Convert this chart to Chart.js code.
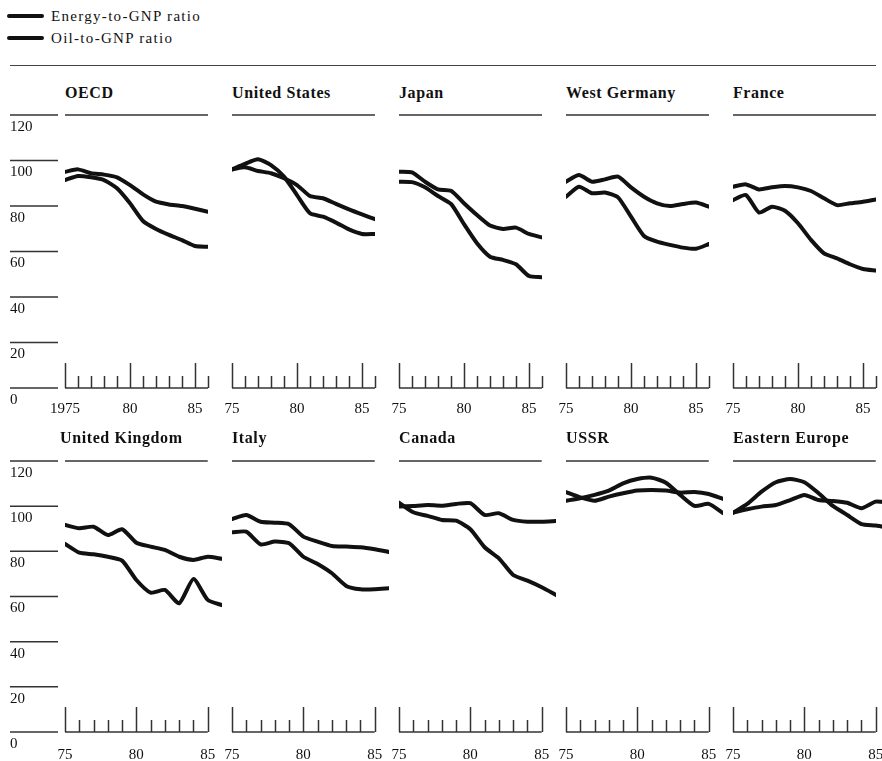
<!DOCTYPE html>
<html>
<head>
<meta charset="utf-8">
<script src="https://cdn.jsdelivr.net/npm/chart.js@4"></script>
<style>
  body { margin: 0; background: #fff; }
  #wrap { position: relative; width: 882px; height: 761px; overflow: hidden; background: #fff;
          font-family: "Liberation Serif", "Times New Roman", serif; color: #111; }
  .title { position: absolute; font-weight: bold; font-size: 16px; line-height: 18px; letter-spacing: 0.6px; white-space: nowrap; }
  .leg { position: absolute; left: 7px; height: 20px; display: flex; align-items: center;
         font-size: 15px; line-height: 20px; letter-spacing: 1.3px; white-space: nowrap; }
  .leg i { display: inline-block; width: 37px; height: 4px; background: #111; border-radius: 2px; margin-right: 7px; }
  .rule { position: absolute; left: 10px; top: 65px; width: 866px; height: 0; border-top: 1.5px solid #444; }
  canvas { position: absolute; }
</style>
</head>
<body>
<div id="wrap">
  <div class="leg" style="top:6px"><i></i><span>Energy-to-GNP ratio</span></div>
  <div class="leg" style="top:28px"><i></i><span>Oil-to-GNP ratio</span></div>
  <div class="rule"></div>
</div>
<script>
// ---------- data ----------
const years = [1975, 1976, 1977, 1978, 1979, 1980, 1981, 1982, 1983, 1984, 1985, 1986];
const yTicks = [0, 20, 40, 60, 80, 100, 120];
const seriesNames = ['Energy-to-GNP ratio', 'Oil-to-GNP ratio'];
const panelTitles = ['OECD', 'United States', 'Japan', 'West Germany', 'France',
                     'United Kingdom', 'Italy', 'Canada', 'USSR', 'Eastern Europe'];

const oecdEnergy = [95.0, 96.1, 94.4, 93.8, 92.6, 89.2, 85.1, 81.9, 80.7, 80.0, 78.8, 77.5];
const oecdOil    = [91.4, 93.2, 92.6, 91.4, 87.8, 81.2, 73.4, 69.9, 67.3, 65.0, 62.4, 62.1];
const usEnergy   = [96.1, 97.0, 95.4, 94.4, 92.2, 89.2, 84.4, 83.4, 80.9, 78.5, 76.3, 74.2];
const usOil      = [96.1, 98.5, 100.5, 98.0, 92.9, 84.8, 76.8, 75.3, 72.7, 69.7, 67.7, 67.7];
const japanEnergy = [95.1, 94.8, 90.7, 87.3, 86.7, 81.2, 76.0, 71.4, 69.9, 70.5, 67.7, 66.2];
const japanOil    = [90.7, 90.5, 88.2, 84.4, 80.9, 72.0, 63.6, 57.7, 56.3, 54.4, 49.2, 48.7];
const wgEnergy   = [90.7, 93.6, 90.7, 91.7, 92.9, 88.2, 84.1, 81.2, 80.0, 80.9, 81.5, 79.7];
const wgOil      = [84.1, 88.5, 85.6, 85.9, 83.8, 75.3, 66.8, 64.3, 62.9, 61.7, 61.2, 63.3];
const franceEnergy = [88.5, 89.5, 87.3, 88.2, 88.8, 88.2, 86.6, 83.4, 80.4, 81.2, 81.9, 82.9];
const franceOil    = [82.6, 84.8, 77.1, 79.7, 77.9, 72.4, 65.1, 59.2, 57.0, 54.4, 52.3, 51.6];
const ukEnergy   = [91.7, 90.2, 90.9, 87.2, 89.8, 83.8, 82.1, 80.6, 77.6, 76.2, 77.6, 76.7];
const ukOil      = [83.3, 79.4, 78.7, 77.6, 75.9, 67.3, 61.7, 62.9, 57.0, 67.8, 58.5, 56.2];
const italyEnergy = [94.3, 96.1, 93.1, 92.7, 92.0, 86.5, 84.3, 82.4, 82.1, 81.8, 80.9, 79.7];
const italyOil    = [88.4, 88.7, 83.1, 84.3, 83.6, 77.6, 74.4, 70.3, 64.7, 63.2, 63.2, 63.6];
const canadaEnergy = [99.8, 100.1, 100.5, 100.2, 101.0, 101.3, 96.1, 96.9, 93.9, 93.1, 93.1, 93.4];
const canadaOil    = [101.6, 97.3, 95.7, 93.9, 93.6, 89.8, 81.8, 76.9, 69.5, 67.0, 64.1, 60.7];
const ussrEnergy = [106.2, 103.9, 102.4, 104.2, 105.7, 106.9, 107.2, 106.9, 106.0, 106.3, 105.4, 103.2];
const ussrOil    = [102.4, 103.5, 105.0, 106.9, 110.1, 112.0, 112.6, 110.4, 105.0, 100.1, 101.0, 96.9];
const eeEnergy   = [97.1, 98.6, 99.8, 100.5, 102.7, 105.0, 102.7, 102.3, 101.5, 99.1, 102.0, 101.4];
const eeOil      = [97.1, 101.0, 106.4, 110.6, 112.0, 110.6, 105.7, 100.1, 96.1, 92.1, 91.4, 90.3];

const energySeries = [oecdEnergy, usEnergy, japanEnergy, wgEnergy, franceEnergy,
                      ukEnergy, italyEnergy, canadaEnergy, ussrEnergy, eeEnergy];
const oilSeries    = [oecdOil, usOil, japanOil, wgOil, franceOil,
                      ukOil, italyOil, canadaOil, ussrOil, eeOil];

// ---------- layout ----------
const FONT = '"Liberation Serif", "Times New Roman", serif';
Chart.defaults.font.family = FONT;
const ROWS = [
  { top: 115, bottom: 388, span: 143, axisEnd: 1986, titleTop: 84, tickPad: 12 },
  { top: 461, bottom: 732, span: 157, axisEnd: 1985, titleTop: 429, tickPad: 14 }
];
const COLS = [65, 232, 399, 566, 733];

const decor = {
  id: 'decor',
  beforeDatasetsDraw(chart, args, opts) {
    const { ctx, scales: { x, y } } = chart;
    const ax0 = x.getPixelForValue(years[0]);
    const ax1 = x.getPixelForValue(opts.axisEnd);
    const y0 = y.getPixelForValue(yTicks[0]);
    const yTop = y.getPixelForValue(yTicks[yTicks.length - 1]);
    ctx.save();
    ctx.strokeStyle = '#333';
    ctx.lineWidth = 1.5;
    ctx.beginPath(); ctx.moveTo(ax0, yTop); ctx.lineTo(ax1, yTop); ctx.stroke();
    ctx.beginPath(); ctx.moveTo(ax0, y0); ctx.lineTo(ax1, y0); ctx.stroke();
    years.filter(yr => yr <= opts.axisEnd).forEach(yr => {
      const px = Math.round(x.getPixelForValue(yr)) + 0.5;
      const len = yr % 5 === 0 ? 25 : 12;
      ctx.beginPath(); ctx.moveTo(px, y0); ctx.lineTo(px, y0 - len); ctx.stroke();
    });
    if (opts.yAxis) {
      ctx.fillStyle = '#111';
      ctx.font = '15px ' + FONT;
      ctx.textAlign = 'left';
      ctx.textBaseline = 'middle';
      yTicks.forEach(v => {
        const py = y.getPixelForValue(v);
        ctx.beginPath(); ctx.moveTo(10, py); ctx.lineTo(58, py); ctx.stroke();
        ctx.fillText(String(v), 10, py + 12);
      });
    }
    ctx.restore();
  }
};

const wrap = document.getElementById('wrap');
panelTitles.forEach((title, i) => {
  const r = Math.floor(i / 5), c = i % 5;
  const R = ROWS[r], L = COLS[c];
  const pl = c === 0 ? L : 34, pr = 34, pt = 10, pb = 4, tickPad = R.tickPad;
  const axisH = 2 * tickPad + 18;
  const w = pl + R.span + pr;
  const h = pt + (R.bottom - R.top) + axisH + pb;

  const t = document.createElement('div');
  t.className = 'title';
  t.textContent = title;
  t.style.left = (i === 5 ? L - 5 : L) + 'px';
  t.style.top = R.titleTop + 'px';
  wrap.appendChild(t);

  const cv = document.createElement('canvas');
  cv.width = w; cv.height = h;
  cv.style.width = w + 'px'; cv.style.height = h + 'px';
  cv.style.left = (L - pl) + 'px'; cv.style.top = (R.top - pt) + 'px';
  wrap.appendChild(cv);

  const mk = (vals, name) => ({
    label: name,
    data: years.map((yr, k) => ({ x: yr, y: vals[k] })),
    borderColor: '#111', borderWidth: 4, pointRadius: 0, fill: false,
    tension: 0.2, borderCapStyle: 'round', borderJoinStyle: 'round'
  });

  new Chart(cv, {
    type: 'line',
    data: { datasets: [mk(energySeries[i], seriesNames[0]), mk(oilSeries[i], seriesNames[1])] },
    options: {
      responsive: false, animation: false, devicePixelRatio: 1,
      layout: { padding: { left: pl, right: pr, top: pt, bottom: pb } },
      plugins: {
        legend: { display: false }, tooltip: { enabled: false },
        decor: { axisEnd: R.axisEnd, yAxis: c === 0 }
      },
      scales: {
        x: {
          type: 'linear', min: years[0], max: years[years.length - 1],
          border: { display: false },
          grid: { display: false, drawTicks: false },
          ticks: {
            stepSize: 1, autoSkip: false, maxRotation: 0, padding: tickPad,
            color: '#111', font: { size: 15, family: FONT },
            callback: v => (v % 5 === 0 ? (i === 0 && v === 1975 ? '1975' : String(v).slice(2)) : null)
          }
        },
        y: { display: false, min: yTicks[0], max: yTicks[yTicks.length - 1] }
      }
    },
    plugins: [decor]
  });
});
</script>
</body>
</html>
